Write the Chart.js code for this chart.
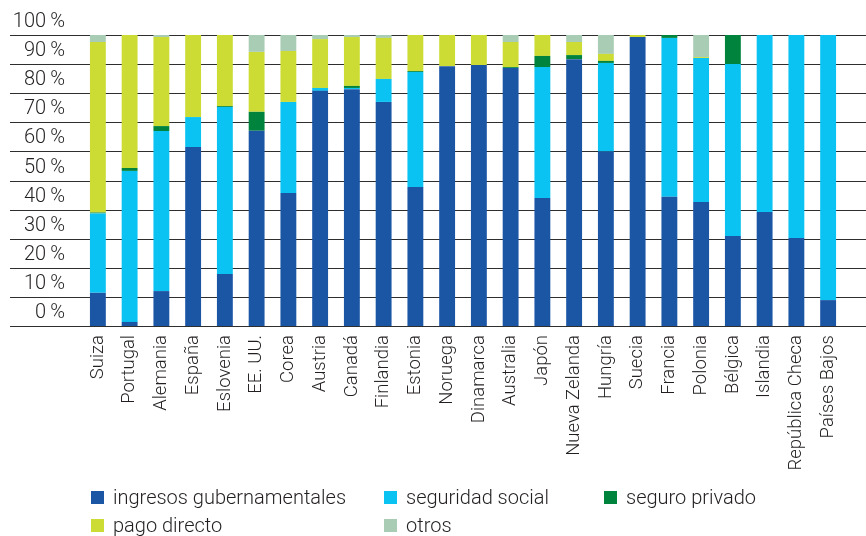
<!DOCTYPE html>
<html lang="es">
<head>
<meta charset="utf-8">
<title>Fuentes de financiación del gasto sanitario</title>
<script src="https://cdn.jsdelivr.net/npm/chart.js@4.4.1/dist/chart.umd.min.js"></script>
<style>
  html, body { margin: 0; padding: 0; background: #ffffff; }
  #wrap { position: relative; width: 866px; height: 536px; overflow: hidden; }
  #chart { position: absolute; left: 0; top: 0; }
  #legend { position: absolute; left: 0; top: 0; width: 866px; height: 536px; pointer-events: none;
            font-family: Roboto, "Liberation Sans", sans-serif; font-weight: 300; font-size: 20px; color: #231f20; }
  .item { position: absolute; display: flex; align-items: center; white-space: nowrap; height: 20px; }
  .box { width: 13px; height: 13px; margin-right: 9px; flex: none; }
</style>
</head>
<body>
<div id="wrap">
  <canvas id="chart" width="866" height="536"></canvas>
  <div id="legend"></div>
</div>
<script>
// Countries, in the order shown
const countries = ['Suiza', 'Portugal', 'Alemania', 'España', 'Eslovenia', 'EE. UU.', 'Corea', 'Austria',
  'Canadá', 'Finlandia', 'Estonia', 'Noruega', 'Dinamarca', 'Australia', 'Japón', 'Nueva Zelanda',
  'Hungría', 'Suecia', 'Francia', 'Polonia', 'Bélgica', 'Islandia', 'República Checa', 'Países Bajos'];

// Share of health spending by source (%)
const ingresosGubernamentales = [11.4, 1.4, 12.0, 61.5, 17.9, 67.1, 45.7, 80.8, 81.4, 77.0, 47.8, 89.3,
  89.7, 88.7, 44.0, 91.7, 60.0, 99.3, 44.4, 42.6, 30.9, 39.2, 30.2, 8.9];
const seguridadSocial = [27.3, 51.9, 55.0, 10.3, 57.4, 0, 31.3, 1.0, 0.4, 7.9, 39.5, 0,
  0, 0, 45.0, 0, 30.4, 0, 54.6, 49.5, 59.1, 60.8, 69.8, 91.1];
const seguroPrivado = [0.3, 1.0, 1.7, 0, 0.3, 6.5, 0, 0, 0.7, 0, 0.3, 0,
  0, 0.3, 3.8, 1.4, 0.7, 0, 1.0, 0, 10.0, 0, 0, 0];
const pagoDirecto = [58.6, 45.7, 30.6, 28.2, 24.4, 20.6, 17.5, 16.8, 16.8, 14.1, 12.4, 10.7,
  10.3, 8.6, 7.2, 4.5, 2.4, 0.7, 0, 0.3, 0, 0, 0, 0];
const otros = [2.4, 0, 0.7, 0, 0, 5.8, 5.5, 1.4, 0.7, 1.0, 0, 0,
  0, 2.4, 0, 2.4, 6.5, 0, 0, 7.6, 0, 0, 0, 0];

// Y axis tick labels, from 0 to 100
const percentTicks = ['0\u2009%', '10\u2009%', '20\u2009%', '30\u2009%', '40\u2009%', '50\u2009%',
  '60\u2009%', '70\u2009%', '80\u2009%', '90\u2009%', '100\u2009%'];

const FONT = 'Roboto, "Liberation Sans", sans-serif';
const TEXT = '#231f20';

// Horizontal rules across the full width, drawn beneath the bars
const ruleLines = {
  id: 'ruleLines',
  beforeDatasetsDraw(chart) {
    const y = chart.scales.y;
    const ctx = chart.ctx;
    ctx.save();
    ctx.strokeStyle = '#2e2e2e';
    ctx.lineWidth = 1;
    y.ticks.forEach(t => {
      const py = Math.round(y.getPixelForValue(t.value)) + 0.5;
      ctx.beginPath();
      ctx.moveTo(10, py);
      ctx.lineTo(chart.width, py);
      ctx.stroke();
    });
    ctx.restore();
  }
};

const mk = (label, data, color) => ({
  label, data, backgroundColor: color, borderWidth: 0,
  barPercentage: 0.5, categoryPercentage: 1.0
});

const chart = new Chart(document.getElementById('chart'), {
  type: 'bar',
  data: {
    labels: countries,
    datasets: [
      mk('ingresos gubernamentales', ingresosGubernamentales, '#1b56a5'),
      mk('seguridad social', seguridadSocial, '#0bc3f2'),
      mk('seguro privado', seguroPrivado, '#00843d'),
      mk('pago directo', pagoDirecto, '#ccdc35'),
      mk('otros', otros, '#a9cdb4')
    ]
  },
  options: {
    responsive: false,
    animation: false,
    layout: { padding: { top: 35, right: 22, left: 0, bottom: 0 } },
    plugins: { legend: { display: false }, tooltip: { enabled: false } },
    scales: {
      x: {
        stacked: true,
        grid: { display: false, drawTicks: false },
        border: { display: false },
        ticks: {
          color: TEXT, minRotation: 90, maxRotation: 90, autoSkip: false, padding: 9,
          font: { family: FONT, size: 18.5, weight: 300 }
        },
        afterFit(scale) { scale.height = 210; }
      },
      y: {
        stacked: true, min: 0, max: 100,
        grid: { display: false, drawTicks: false },
        border: { display: false },
        ticks: {
          stepSize: 10, color: TEXT, padding: 17, labelOffset: -13,
          font: { family: FONT, size: 20, weight: 300 },
          callback: (v, i) => percentTicks[i]
        },
        afterFit(scale) { scale.width = 82; }
      }
    }
  },
  plugins: [ruleLines]
});

// Legend laid out in columns below the plot
const legendSlots = [[91, 487], [384, 487], [604, 487], [91, 515], [384, 515]];
const legendEl = document.getElementById('legend');
chart.data.datasets.forEach((ds, i) => {
  const item = document.createElement('div');
  item.className = 'item';
  item.style.left = legendSlots[i][0] + 'px';
  item.style.top = legendSlots[i][1] + 'px';
  const box = document.createElement('span');
  box.className = 'box';
  box.style.background = ds.backgroundColor;
  const txt = document.createElement('span');
  txt.textContent = ds.label;
  item.appendChild(box);
  item.appendChild(txt);
  legendEl.appendChild(item);
});
</script>
</body>
</html>
